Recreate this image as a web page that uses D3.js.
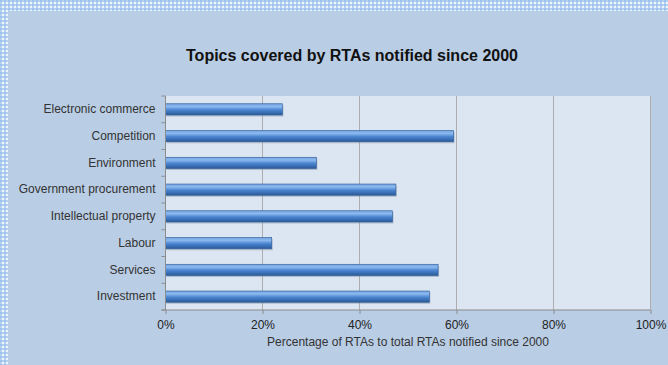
<!DOCTYPE html>
<html>
<head>
<meta charset="utf-8">
<script src="https://cdn.jsdelivr.net/npm/d3@7"></script>
<style>
body { margin: 0; background: #b9cde5; }
text { font-family: "Liberation Sans", Arial, sans-serif; }
</style>
</head>
<body>
<script>
// категории (сверху вниз) и значения в процентах
var categories = ["Electronic commerce", "Competition", "Environment", "Government procurement",
                  "Intellectual property", "Labour", "Services", "Investment"];
var values = [24.1, 59.4, 31.1, 47.5, 46.8, 21.9, 56.2, 54.4];
var xTicks = [0, 20, 40, 60, 80, 100];
var titleText = "Topics covered by RTAs notified since 2000";
var xTitle = "Percentage of RTAs to total RTAs notified since 2000";

var width = 668;
var height = 365;
var plotLeft = 165.5;
var plotRight = 650.5;
var plotTop = 96;
var plotBottom = 310;

var svg = d3.select("body").append("svg")
    .attr("width", width)
    .attr("height", height);

var defs = svg.append("defs");

// клетчатая рамка сверху и слева
var pat = defs.append("pattern")
    .attr("id", "checks")
    .attr("width", 4).attr("height", 4)
    .attr("patternUnits", "userSpaceOnUse");
pat.append("rect").attr("width", 4).attr("height", 4).attr("fill", "#eef4fc");
pat.append("rect").attr("x", 0).attr("y", 0).attr("width", 2).attr("height", 4).attr("fill", "#b3d0f0");
pat.append("rect").attr("x", 0).attr("y", 0).attr("width", 4).attr("height", 2).attr("fill", "#b3d0f0");
pat.append("rect").attr("x", 0).attr("y", 0).attr("width", 2).attr("height", 2).attr("fill", "#9cc1ec");

var grad = defs.append("linearGradient")
    .attr("id", "barGrad")
    .attr("x1", 0).attr("y1", 0).attr("x2", 0).attr("y2", 1);
grad.append("stop").attr("offset", "0%").attr("stop-color", "#6f9fdc");
grad.append("stop").attr("offset", "25%").attr("stop-color", "#8dbaf0");
grad.append("stop").attr("offset", "55%").attr("stop-color", "#4a84d0");
grad.append("stop").attr("offset", "100%").attr("stop-color", "#2a5a98");

svg.append("rect")
    .attr("width", width).attr("height", height)
    .attr("fill", "#b9cde5");
svg.append("rect")
    .attr("width", width).attr("height", 11)
    .attr("fill", "url(#checks)");
svg.append("rect")
    .attr("width", 8).attr("height", height)
    .attr("fill", "url(#checks)");

svg.append("text")
    .attr("x", 352)
    .attr("y", 61)
    .attr("text-anchor", "middle")
    .attr("font-size", 16)
    .attr("font-weight", "bold")
    .attr("fill", "#111")
    .text(titleText);

var x = d3.scaleLinear().domain([0, 100]).range([plotLeft, plotRight]);
var y = d3.scaleBand().domain(categories).range([plotTop, plotBottom]).paddingInner(0.58).paddingOuter(0.29);

svg.append("rect")
    .attr("x", plotLeft).attr("y", plotTop)
    .attr("width", plotRight - plotLeft).attr("height", plotBottom - plotTop)
    .attr("fill", "#dce6f2");

// вертикальная сетка
svg.append("g")
    .selectAll("line")
    .data(xTicks.slice(1))
    .enter().append("line")
    .attr("x1", function(d) { return x(d); })
    .attr("x2", function(d) { return x(d); })
    .attr("y1", plotTop).attr("y2", plotBottom)
    .attr("stroke", "#adadad").attr("stroke-width", 1);

// тень под столбцами
svg.append("g")
    .selectAll("rect")
    .data(values)
    .enter().append("rect")
    .attr("x", plotLeft + 1)
    .attr("y", function(d, i) { return y(categories[i]) + 1.5; })
    .attr("width", function(d) { return x(d) - plotLeft; })
    .attr("height", y.bandwidth())
    .attr("fill", "#7f8fa6").attr("opacity", 0.5);

svg.append("g")
    .selectAll("rect")
    .data(values)
    .enter().append("rect")
    .attr("x", plotLeft)
    .attr("y", function(d, i) { return y(categories[i]); })
    .attr("width", function(d) { return x(d) - plotLeft; })
    .attr("height", y.bandwidth())
    .attr("fill", "url(#barGrad)")
    .attr("stroke", "#2f5d98").attr("stroke-width", 0.6);

// ось X
var xAxis = svg.append("g")
    .attr("transform", "translate(0," + plotBottom + ")")
    .call(d3.axisBottom(x).tickValues(xTicks).tickSize(4).tickFormat(function(d) { return d + "%"; }));
xAxis.select(".domain").attr("stroke", "#8c8c8c").attr("d", "M" + (plotLeft - 4) + ",0H" + plotRight);
xAxis.selectAll(".tick line").attr("stroke", "#8c8c8c");
xAxis.selectAll(".tick text")
    .attr("y", 10)
    .attr("font-size", 12)
    .attr("font-family", "Liberation Sans, Arial, sans-serif")
    .attr("fill", "#222");

// ось Y
var yAxis = svg.append("g")
    .attr("transform", "translate(" + plotLeft + ",0)")
    .call(d3.axisLeft(y).tickSize(0).tickPadding(10));
yAxis.select(".domain").attr("stroke", "#8c8c8c").attr("d", "M0," + plotTop + "V" + plotBottom);
yAxis.selectAll(".tick text")
    .attr("font-size", 12)
    .attr("font-family", "Liberation Sans, Arial, sans-serif")
    .attr("fill", "#333");

var step = (plotBottom - plotTop) / categories.length;
svg.append("g")
    .selectAll("line")
    .data(d3.range(categories.length + 1))
    .enter().append("line")
    .attr("x1", plotLeft - 4).attr("x2", plotLeft)
    .attr("y1", function(d) { return plotTop + d * step; })
    .attr("y2", function(d) { return plotTop + d * step; })
    .attr("stroke", "#8c8c8c");

svg.append("text")
    .attr("x", 408)
    .attr("y", 346)
    .attr("text-anchor", "middle")
    .attr("font-size", 12)
    .attr("fill", "#333")
    .text(xTitle);
</script>
</body>
</html>
